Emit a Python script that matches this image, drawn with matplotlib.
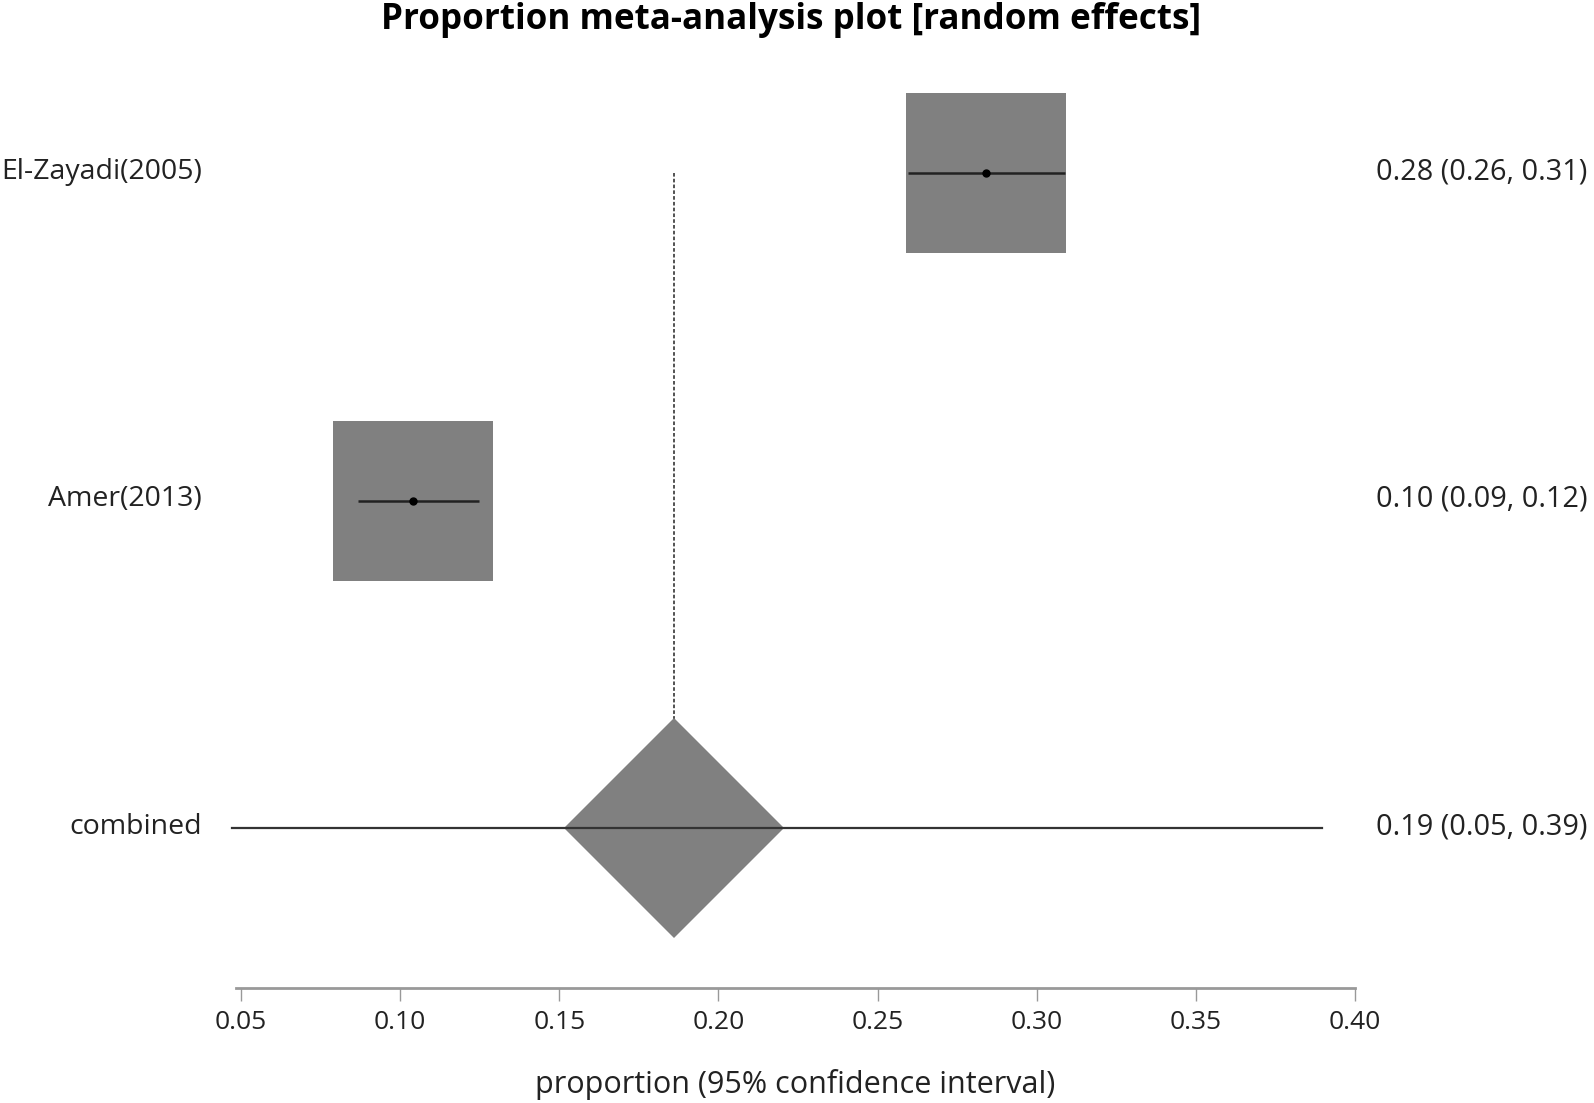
import matplotlib
matplotlib.use("Agg")
import matplotlib.pyplot as plt

# ---- data ----
studies = ["El-Zayadi(2005)", "Amer(2013)"]
est = [0.284, 0.104]
lo = [0.2596, 0.0868]
hi = [0.309, 0.1248]
combined_label = "combined"
comb_est = 0.186
comb_lo = 0.047
comb_hi = 0.3897
right_labels = ["0.28 (0.26, 0.31)", "0.10 (0.09, 0.12)", "0.19 (0.05, 0.39)"]
xticks = [0.05, 0.10, 0.15, 0.20, 0.25, 0.30, 0.35, 0.40]
xtick_labels = ["0.05", "0.10", "0.15", "0.20", "0.25", "0.30", "0.35", "0.40"]

plt.rcParams['font.family'] = ['Open Sans', 'DejaVu Sans']
TXT = "#222222"

W, H = 1594, 1103
fig = plt.figure(figsize=(W / 100, H / 100), dpi=100)
left_px, right_px = 236, 1355
bottom_px, top_px = 988, 60
ax = fig.add_axes([left_px / W, 1 - bottom_px / H, (right_px - left_px) / W, (bottom_px - top_px) / H])

row_px = [173, 500, 828]
spacing = (row_px[2] - row_px[0]) / 2
ymax = 2 + (bottom_px - row_px[2]) / spacing
ymin = 0 - (row_px[0] - top_px) / spacing
ax.set_ylim(ymax, ymin)
ax.set_xlim(0.0484, 0.40)

box_pt = 160 * 0.72
for i, (e, l, h) in enumerate(zip(est, lo, hi)):
    ax.plot([e], [i], marker='s', markersize=box_pt, color='#808080', markeredgewidth=0, zorder=2, clip_on=False)
    ax.plot([l, h], [i, i], color='#222222', lw=1.8, zorder=3, solid_capstyle='butt')
    ax.plot([e], [i], marker='o', markersize=5, color='black', zorder=4)

ci = len(studies)
# dotted reference line from top study to diamond top
diamond_half = 109.5 / spacing
ax.plot([comb_est, comb_est], [0, ci - diamond_half], color='#444444', lw=1.3,
        linestyle=(0, (2, 1.2)), zorder=1)
ax.plot([comb_est], [ci], marker='D', markersize=219 / 1.4142 * 0.72, color='#808080',
        markeredgewidth=0, zorder=2, clip_on=False)
ax.plot([comb_lo, comb_hi], [ci, ci], color='#333333', lw=1.6, zorder=3, clip_on=False)

# left labels
for i, s in enumerate(studies + [combined_label]):
    fig.text(202 / W, 1 - (row_px[i] - 1) / H, s, ha='right', va='center', fontsize=20.5, color=TXT)
for i, s in enumerate(right_labels):
    fig.text(1376 / W, 1 - (row_px[i] - 1) / H, s, ha='left', va='center', fontsize=20.8, color=TXT)

for sp in ['top', 'right', 'left']:
    ax.spines[sp].set_visible(False)
ax.spines['bottom'].set_color('#999999')
ax.spines['bottom'].set_linewidth(2)
ax.set_yticks([])
ax.set_xticks(xticks)
ax.set_xticklabels(xtick_labels, fontsize=19, color=TXT)
ax.tick_params(axis='x', length=9, width=1, color='#999999', pad=7)
ax.set_xlabel("proportion (95% confidence interval)", fontsize=22, color=TXT, labelpad=24)

fig.text(791 / W, 1 - 20 / H, "Proportion meta-analysis plot [random effects]",
         ha='center', va='center', fontsize=25.2, fontweight='bold', color='black')

fig.savefig("out.png", dpi=100, facecolor='white')
